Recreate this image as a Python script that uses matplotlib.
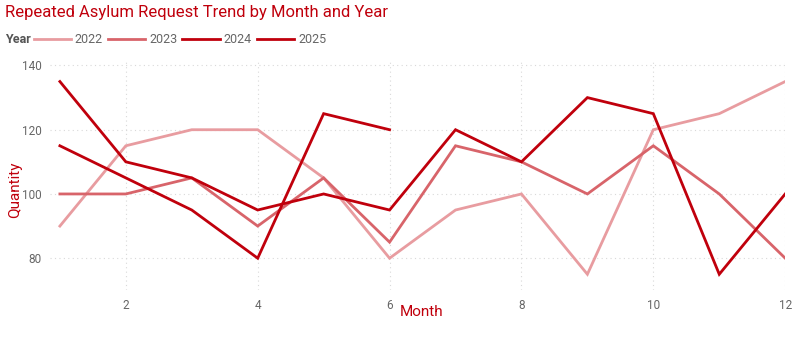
import matplotlib.pyplot as plt

months = list(range(1, 13))
years = ['2022', '2023', '2024', '2025']
v2022 = [90, 115, 120, 120, 105, 80, 95, 100, 75, 120, 125, 135]
v2023 = [100, 100, 105, 90, 105, 85, 115, 110, 100, 115, 100, 80]
v2024 = [135, 110, 105, 95, 100, 95, 120, 110, 130, 125, 75, 100]
v2025 = [115, 105, 95, 80, 125, 120]

colors = ['#E89CA0', '#D8646A', '#C0000C', '#C0000C']
red = '#C0000C'
gray = '#666666'

plt.rcParams['font.family'] = ['Roboto', 'DejaVu Sans']

fig = plt.figure(figsize=(8, 3.62), dpi=100)
ax = fig.add_axes([0.0625, 0.198, 0.919, 0.63])

series = [v2022, v2023, v2024, v2025]
for y, vals, c in zip(years, series, colors):
    ax.plot(months[:len(vals)], vals, color=c, lw=2.0, label=y,
            solid_joinstyle='miter')

ax.set_xlim(0.85, 12)
ax.set_ylim(70, 141)
ax.set_xticks([2, 4, 6, 8, 10, 12])
ax.set_yticks([80, 100, 120, 140])
ax.grid(True, color='#d9d9d9', linestyle=(0, (1, 3)), lw=0.8)
ax.set_axisbelow(True)
for s in ax.spines.values():
    s.set_visible(False)
ax.tick_params(length=0, colors=gray, labelsize=8.5, pad=6)
ax.set_xlabel('Month', color=red, fontsize=11)
ax.xaxis.set_label_coords(0.505, -0.065)
ax.set_ylabel('Quantity', color=red, fontsize=11)
ax.yaxis.set_label_coords(-0.038, 0.44)

fig.text(0.006, 0.965, 'Repeated Asylum Request Trend by Month and Year',
         color=red, fontsize=12, va='center')
fig.text(0.006, 0.89, 'Year', color='#555555', fontsize=9,
         fontweight='bold', va='center')
fig.legend(loc='center left', bbox_to_anchor=(0.042, 0.89), ncol=4,
           frameon=False, fontsize=9, handlelength=3.0, handletextpad=0.3,
           columnspacing=0.4, labelcolor=gray, borderpad=0, borderaxespad=0)

fig.savefig('out.png', dpi=100)
